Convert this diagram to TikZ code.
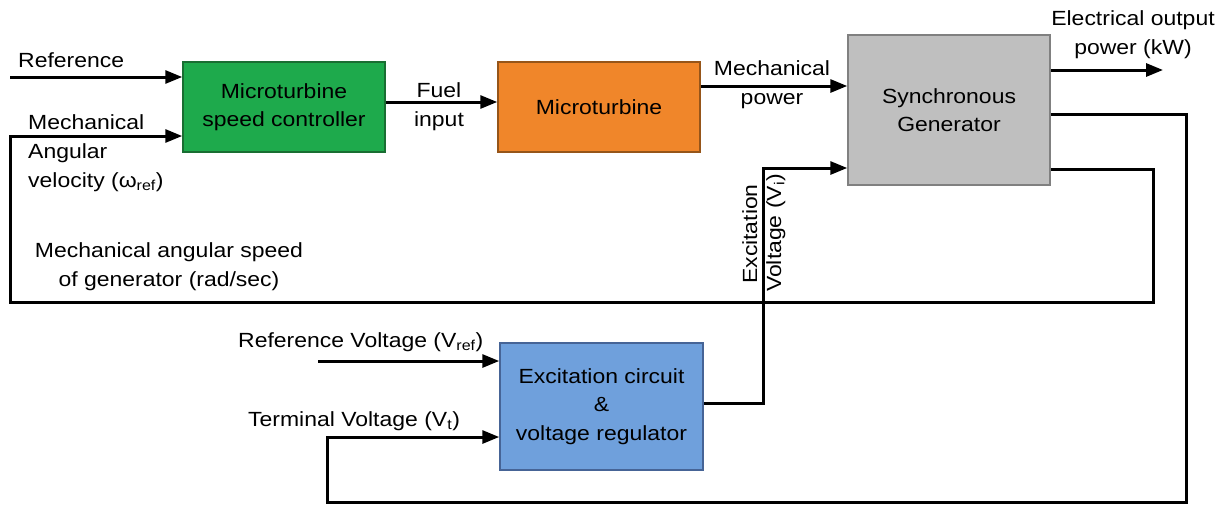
\documentclass[tikz,border=0pt]{standalone}
\usepackage{fontspec}
\setmainfont{Liberation Sans}[FakeStretch=1.12]
\usetikzlibrary{arrows.meta}
\definecolor{gfill}{RGB}{30,170,76}
\definecolor{gline}{RGB}{25,110,50}
\definecolor{ofill}{RGB}{240,134,42}
\definecolor{oline}{RGB}{150,85,25}
\definecolor{yfill}{RGB}{191,191,191}
\definecolor{yline}{RGB}{128,128,128}
\definecolor{bfill}{RGB}{111,160,220}
\definecolor{bline}{RGB}{70,100,150}
\tikzset{
  blk/.style={draw, line width=1.5pt, inner sep=0pt, align=center,
    font=\fontsize{20.5}{28.5}\selectfont},
  lbl/.style={inner sep=0pt, font=\fontsize{20.5}{29}\selectfont},
  wire/.style={line width=3pt},
  arr/.style={wire, -{Triangle[length=17pt,width=13pt]}}
}
\begin{document}
\begin{tikzpicture}[x=1pt,y=-1pt]
\useasboundingbox (0,0) rectangle (1226,506);
% blocks
\node[blk, fill=gfill, draw=gline, minimum width=202pt, minimum height=90pt] (green) at (284,107) {Microturbine\\speed controller};
\node[blk, fill=ofill, draw=oline, minimum width=202pt, minimum height=90pt] (orange) at (599,107) {Microturbine};
\node[blk, fill=yfill, draw=yline, minimum width=202pt, minimum height=150pt] (gray) at (949,110) {Synchronous\\Generator};
\node[blk, fill=bfill, draw=bline, minimum width=203pt, minimum height=127pt] (blue) at (601.5,406.5) {Excitation circuit\\\&\\voltage regulator};
% free ends
\coordinate (refin) at (10,77);
\coordinate (vrefin) at (318,361);
\coordinate (elout) at (1163,70);
\coordinate (innerc) at (1153,302);
\coordinate (mechin) at (10,136);
\coordinate (outerc) at (1186,502);
\coordinate (termin) at (327,437);
\coordinate (excc) at (763,168);
% connectors
\draw[arr] (refin) -- (green.west |- refin);
\draw[arr] (green.east |- 0,102) -- (orange.west |- 0,102);
\draw[arr] (orange.east |- 0,86) -- (gray.west |- 0,86);
\draw[arr] (gray.east |- elout) -- (elout);
\draw[arr] (gray.east |- 0,169) -| (innerc) -| (mechin) -- (green.west |- mechin);
\draw[arr] (gray.east |- 0,114) -| (outerc) -| (termin) -- (blue.west |- termin);
\draw[arr] (blue.east |- 0,403) -| (excc) -- (gray.west |- excc);
\draw[arr] (vrefin) -- (blue.west |- vrefin);
% labels
\node[lbl, anchor=base west] (lref) at (18,67) {Reference};
\node[lbl, anchor=north west, align=left] (lmech) at (28,114) {Mechanical\\Angular\\velocity (ω\textsubscript{ref})};
\node[lbl, anchor=north, align=center] (lfuel) at (439,82) {Fuel\\input};
\node[lbl, anchor=north, align=center] (lmp) at (772,60) {Mechanical\\power};
\node[lbl, anchor=north, align=center] (lel) at (1133,10) {Electrical output\\power (kW)};
\node[lbl, anchor=north, align=center] (lspeed) at (169,242) {Mechanical angular speed\\of generator (rad/sec)};
\node[lbl, anchor=base west] (lvref) at (238,347) {Reference Voltage (V\textsubscript{ref})};
\node[lbl, anchor=base west] (lvt) at (248,426) {Terminal Voltage (V\textsubscript{t})};
\node[lbl, anchor=base, rotate=90] (lexc) at (757,234) {Excitation};
\node[lbl, anchor=base, rotate=90] (lvi) at (781,233) {Voltage (V\textsubscript{i})};
\end{tikzpicture}
\end{document}
